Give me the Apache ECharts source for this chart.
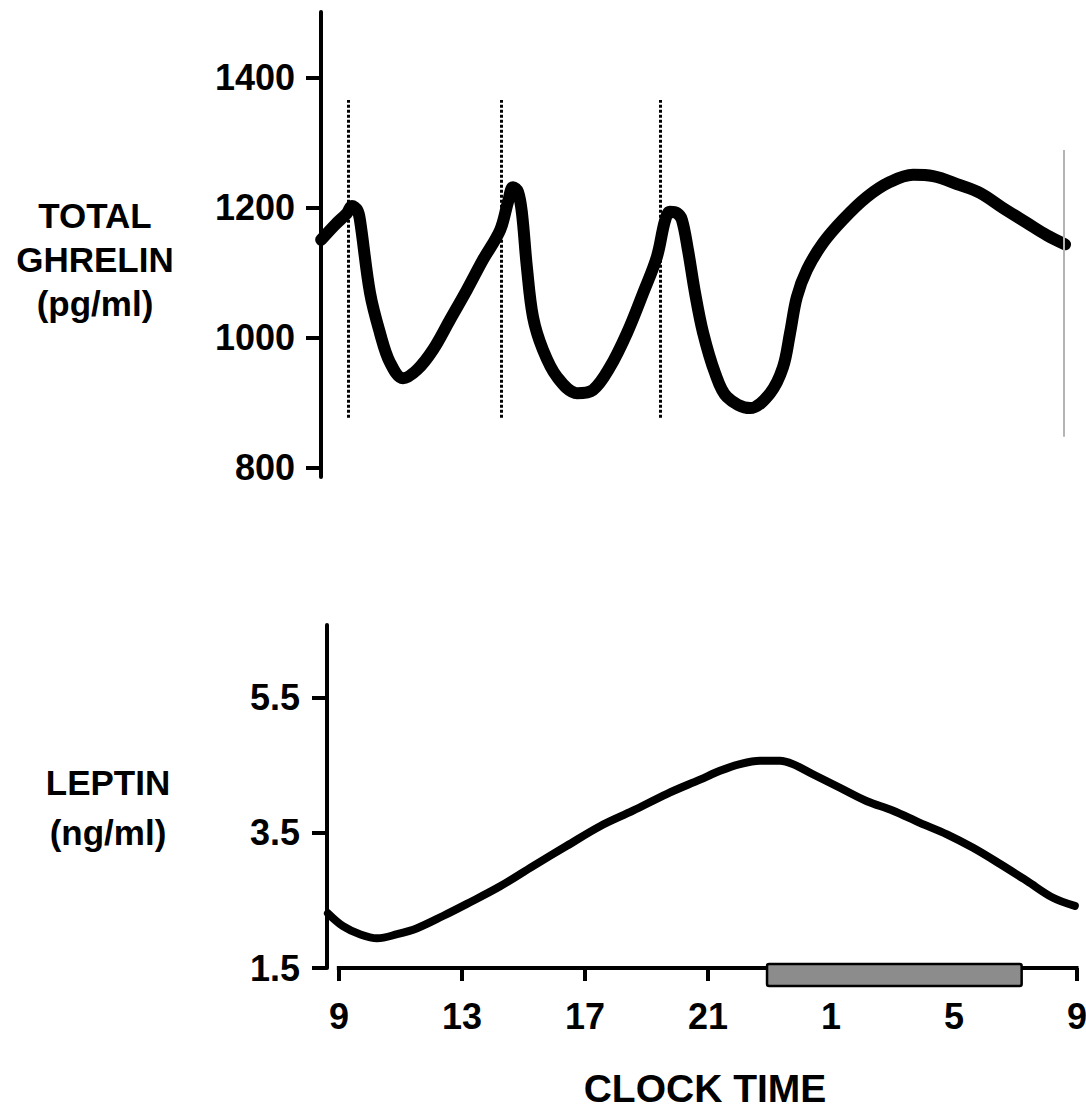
<!DOCTYPE html>
<html>
<head>
<meta charset="utf-8">
<script src="https://cdn.jsdelivr.net/npm/echarts@6/dist/echarts.min.js"></script>
<style>html,body{margin:0;padding:0;background:#fff;}#c{width:1086px;height:1108px;}</style>
</head>
<body>
<div id="c"></div>
<script>
// Ghrelin (pg/ml) vs clock hour (continuous, 24+ = next day)
const ghrelinHours = [8.42,8.87,9.26,9.42,9.59,9.68,10.01,10.33,10.66,11.08,11.54,12.06,12.61,13.16,13.68,14.24,14.5,14.66,14.82,14.95,15.11,15.31,15.63,16.09,16.74,17.26,17.81,18.37,18.89,19.34,19.6,19.76,19.99,20.15,20.35,20.58,20.84,21.23,21.62,22.37,23.02,23.44,23.67,23.89,24.22,24.74,25.39,26.17,26.92,27.67,28.32,29.2,29.85,30.59,31.37,32.02,32.61];
const ghrelinValues = [1151,1174,1192,1203,1197,1182,1069,1008,962,938,951,982,1028,1074,1120,1166,1210,1232,1225,1192,1109,1032,982,940,915,920,955,1008,1069,1125,1180,1194,1192,1182,1135,1069,1008,946,909,892,915,955,1008,1063,1105,1146,1182,1217,1240,1251,1249,1235,1223,1200,1177,1158,1144];
// Leptin (ng/ml)
const leptinHours = [8.64,9.13,9.68,10.24,10.89,11.54,12.38,13.16,14.24,15.31,16.41,17.49,18.56,19.67,20.74,21.39,22.04,22.69,23.34,23.76,24.41,25.29,26.17,27.02,27.89,28.77,29.62,30.5,31.37,32.22,32.93];
const leptinValues = [2.31,2.12,2.0,1.94,2.0,2.09,2.27,2.45,2.71,3.01,3.31,3.6,3.83,4.08,4.29,4.42,4.52,4.57,4.57,4.52,4.37,4.17,3.97,3.83,3.65,3.48,3.28,3.04,2.79,2.54,2.42];
// meal times (dotted lines) and end marker
const mealHours = [9.29, 14.27, 19.44];
const mealSpan = [877, 1366];
const endMarkerHour = 32.58;
const endMarkerSpan = [848, 1289];
// sleep period bar
const sleepPeriod = [22.92, 31.2];
const sleepBarSpan = [1.233, 1.56];
// axis ticks
const xTicks = [9, 13, 17, 21, 25, 29, 33];
const xAxisSpan = [8.93, 33.05];
const ghrelinTicks = [800, 1000, 1200, 1400];
const leptinTicks = [1.5, 3.5, 5.5];

const FONT = '"Liberation Sans", Arial, Helvetica, sans-serif';
const chart = echarts.init(document.getElementById('c'), null, {renderer: 'svg'});

const zip = (a, b) => a.map((v, i) => [v, b[i]]);

const yLabel = (m, ticks) => ({
  show: true, color: '#000', fontSize: 36, fontWeight: 'bold', fontFamily: FONT, margin: m,
  customValues: ticks, formatter: v => String(v)
});

const option = {
  animation: false,
  backgroundColor: '#fff',
  grid: [
    {left: 321, right: 9, top: 12, height: 465, outerBoundsMode: 'none'},
    {left: 327, right: 9, top: 625, height: 343, outerBoundsMode: 'none'}
  ],
  xAxis: [
    {type: 'value', gridIndex: 0, min: 8.415, max: 33, show: false},
    {type: 'value', gridIndex: 1, min: 8.61, max: 33,
      axisLine: {show: false},
      axisTick: {show: true, length: 13, lineStyle: {color: '#000', width: 4}, customValues: xTicks},
      axisLabel: {show: true, color: '#000', fontSize: 36, fontWeight: 'bold', fontFamily: FONT, margin: 30,
        customValues: xTicks, formatter: v => String(v > 24 ? v - 24 : v)},
      splitLine: {show: false}
    }
  ],
  yAxis: [
    {type: 'value', gridIndex: 0, min: 786, max: 1501.5,
      axisLine: {show: true, lineStyle: {color: '#000', width: 4}},
      axisTick: {show: true, length: 15, lineStyle: {color: '#000', width: 4}, customValues: ghrelinTicks},
      axisLabel: yLabel(26, ghrelinTicks),
      splitLine: {show: false}
    },
    {type: 'value', gridIndex: 1, min: 1.5, max: 6.58,
      axisLine: {show: true, lineStyle: {color: '#000', width: 4}},
      axisTick: {show: true, length: 15, lineStyle: {color: '#000', width: 4}, customValues: leptinTicks},
      axisLabel: yLabel(27, leptinTicks),
      splitLine: {show: false}
    }
  ],
  graphic: [
    {type: 'text', x: 95, y: 259, silent: true, style: {text: 'TOTAL\nGHRELIN\n(pg/ml)', fill: '#000',
      fontSize: 35, fontWeight: 'bold', fontFamily: FONT, align: 'center', verticalAlign: 'middle', lineHeight: 44}},
    {type: 'text', x: 108, y: 807, silent: true, style: {text: 'LEPTIN\n(ng/ml)', fill: '#000',
      fontSize: 35, fontWeight: 'bold', fontFamily: FONT, align: 'center', verticalAlign: 'middle', lineHeight: 50}},
    {type: 'text', x: 705, y: 1088, silent: true, style: {text: 'CLOCK TIME', fill: '#000',
      fontSize: 39, fontWeight: 'bold', fontFamily: FONT, align: 'center', verticalAlign: 'middle'}}
  ],
  series: [
    {type: 'line', xAxisIndex: 0, yAxisIndex: 0, data: zip(ghrelinHours, ghrelinValues),
      smooth: 0.35, showSymbol: false, clip: false,
      lineStyle: {color: '#000', width: 12, cap: 'round', join: 'round'},
      markLine: {silent: true, symbol: ['none', 'none'], label: {show: false},
        data: mealHours.map(h => [
          {coord: [h, mealSpan[0]], lineStyle: {color: '#000', width: 3, type: [3, 2]}},
          {coord: [h, mealSpan[1]]}
        ]).concat([[
          {coord: [endMarkerHour, endMarkerSpan[0]], lineStyle: {color: '#b4b4b4', width: 2, type: 'solid'}},
          {coord: [endMarkerHour, endMarkerSpan[1]]}
        ]])
      },
      z: 3
    },
    {type: 'line', xAxisIndex: 1, yAxisIndex: 1, data: zip(leptinHours, leptinValues),
      smooth: 0.35, showSymbol: false, clip: false,
      lineStyle: {color: '#000', width: 8, cap: 'round', join: 'round'}, z: 3
    },
    // bottom x-axis baseline (drawn from 9 to 9 next day)
    {type: 'line', xAxisIndex: 1, yAxisIndex: 1, silent: true, clip: false, showSymbol: false, z: 2,
      data: [[xAxisSpan[0], leptinTicks[0]], [xAxisSpan[1], leptinTicks[0]]],
      lineStyle: {color: '#000', width: 4, cap: 'butt'}
    },
    {type: 'custom', xAxisIndex: 1, yAxisIndex: 1, clip: false, z: 4,
      data: [[sleepPeriod[0], sleepPeriod[1], sleepBarSpan[0], sleepBarSpan[1]]],
      renderItem: function (params, api) {
        const p0 = api.coord([api.value(0), api.value(3)]);
        const p1 = api.coord([api.value(1), api.value(2)]);
        return {type: 'rect', shape: {x: p0[0], y: p0[1], width: p1[0] - p0[0], height: p1[1] - p0[1], r: 2},
          style: {fill: '#8c8c8c', stroke: '#000', lineWidth: 2.5}};
      }
    }
  ]
};
chart.setOption(option);
</script>
</body>
</html>
